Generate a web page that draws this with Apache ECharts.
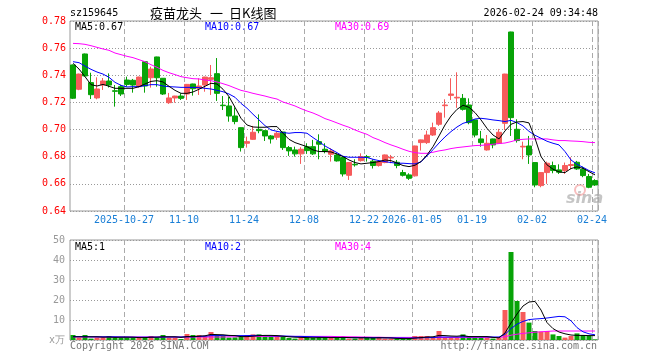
<!DOCTYPE html>
<html><head><meta charset="utf-8">
<script src="https://cdn.jsdelivr.net/npm/echarts@6/dist/echarts.min.js"></script>
<style>html,body{margin:0;padding:0;background:#fff}#c{width:660px;height:360px}</style>
</head><body><div id="c"></div>
<script>
const dates = [
'2025-10-14','2025-10-15','2025-10-16','2025-10-17','2025-10-20','2025-10-21','2025-10-22','2025-10-23','2025-10-24','2025-10-27',
'2025-10-28','2025-10-29','2025-10-30','2025-10-31','2025-11-03','2025-11-04','2025-11-05','2025-11-06','2025-11-07','2025-11-10',
'2025-11-11','2025-11-12','2025-11-13','2025-11-14','2025-11-17','2025-11-18','2025-11-19','2025-11-20','2025-11-21','2025-11-24',
'2025-11-25','2025-11-26','2025-11-27','2025-11-28','2025-12-01','2025-12-02','2025-12-03','2025-12-04','2025-12-05','2025-12-08',
'2025-12-09','2025-12-10','2025-12-11','2025-12-12','2025-12-15','2025-12-16','2025-12-17','2025-12-18','2025-12-19','2025-12-22',
'2025-12-23','2025-12-24','2025-12-25','2025-12-26','2025-12-29','2025-12-30','2025-12-31','2026-01-05','2026-01-06','2026-01-07',
'2026-01-08','2026-01-09','2026-01-12','2026-01-13','2026-01-14','2026-01-15','2026-01-16','2026-01-19','2026-01-20','2026-01-21',
'2026-01-22','2026-01-23','2026-01-26','2026-01-27','2026-01-28','2026-01-29','2026-01-30','2026-02-02','2026-02-03','2026-02-04',
'2026-02-05','2026-02-06','2026-02-09','2026-02-10','2026-02-11','2026-02-12','2026-02-13','2026-02-24'];

const opens = [
.7476,.7297,.7557,.7346,.7233,.7328,.7358,.7286,.7316,.7365,
.7363,.7316,.7500,.7382,.7535,.7378,.7198,.7233,.7247,.7262,
.7336,.7304,.7328,.7370,.7412,.7180,.7174,.7100,.7014,.6899,
.6928,.7002,.6992,.6953,.6943,.6982,.6867,.6850,.6821,.6874,
.6874,.6911,.6855,.6818,.6813,.6794,.6663,.6744,.6771,.6800,
.6767,.6735,.6757,.6791,.6759,.6683,.6666,.6659,.6904,.6904,
.6960,.7039,.7176,.7252,.7233,.7230,.7181,.7071,.6931,.6850,
.6931,.6899,.7046,.7719,.7002,.6872,.6879,.6757,.6587,.6683,
.6735,.6703,.6698,.6735,.6759,.6708,.6654,.6624];
const closes = [
.7231,.7409,.7395,.7257,.7299,.7358,.7328,.7282,.7262,.7333,
.7328,.7387,.7321,.7446,.7382,.7262,.7233,.7247,.7230,.7333,
.7301,.7321,.7387,.7382,.7267,.7176,.7100,.7059,.6867,.6911,
.6980,.6992,.6953,.6931,.6973,.6867,.6843,.6821,.6855,.6845,
.6821,.6892,.6838,.6843,.6769,.6673,.6757,.6740,.6801,.6796,
.6735,.6764,.6813,.6796,.6735,.6663,.6641,.6879,.6924,.6960,
.7014,.7122,.7181,.7262,.7238,.7149,.7051,.6960,.6904,.6899,
.6887,.6980,.7409,.7088,.6919,.6877,.6813,.6592,.6683,.6752,
.6698,.6686,.6735,.6742,.6710,.6661,.6575,.6592];
const lows = [
.7225,.7290,.7390,.7225,.7223,.7292,.7310,.7169,.7247,.7316,
.7272,.7309,.7272,.7309,.7316,.7255,.7189,.7198,.7218,.7218,
.7250,.7255,.7279,.7255,.7211,.7144,.7058,.7039,.6838,.6867,
.6924,.6973,.6916,.6897,.6924,.6850,.6806,.6801,.6747,.6821,
.6813,.6781,.6825,.6764,.6764,.6654,.6629,.6727,.6764,.6764,
.6713,.6727,.6752,.6752,.6715,.6654,.6629,.6654,.6845,.6894,
.6953,.7027,.7088,.7218,.7160,.7140,.7039,.6943,.6874,.6845,
.6862,.6894,.6997,.6953,.6904,.6781,.6747,.6575,.6575,.6600,
.6678,.6673,.6673,.6708,.6703,.6649,.6568,.6585];
const highs = [
.7480,.7412,.7560,.7419,.7385,.7380,.7414,.7328,.7330,.7390,
.7373,.7390,.7502,.7463,.7537,.7380,.7270,.7249,.7267,.7336,
.7338,.7378,.7389,.7476,.7527,.7247,.7243,.7164,.7016,.6948,
.7027,.7112,.6994,.6960,.6985,.6984,.6879,.6874,.6870,.6899,
.6924,.6965,.6899,.6862,.6825,.6796,.6759,.6781,.6825,.6813,
.6781,.6766,.6816,.6813,.6776,.6703,.6678,.6881,.6926,.6992,
.7051,.7137,.7223,.7378,.7422,.7262,.7230,.7073,.6990,.6960,
.6933,.7005,.7411,.7721,.7076,.6911,.6953,.6759,.6685,.6764,
.6764,.6744,.6757,.6796,.6769,.6727,.6673,.6634];
const volumes = [
2.5,1.2,2.5,0.7,1.2,1.2,2.0,1.2,1.2,1.2,
1.2,1.2,1.2,2.0,1.2,2.5,1.2,1.2,0.5,3.0,
2.5,2.5,2.0,4.0,2.5,2.0,1.2,1.3,1.7,2.5,
2.8,2.8,1.7,1.7,2.0,1.5,1.0,0.7,1.3,1.3,
1.2,1.2,1.2,1.2,1.2,1.5,0.7,0.7,1.2,1.2,
1.2,1.2,0.7,0.7,0.7,0.7,0.7,2.0,2.0,2.0,
1.2,4.5,1.2,1.2,1.2,2.8,2.0,1.2,1.2,1.2,
0.7,1.2,15.0,44.0,19.5,14.0,8.7,4.5,4.2,4.5,
2.8,2.0,1.2,2.0,3.3,2.5,2.0,0.3];
const ma5 = [
.7488,.7446,.7390,.7331,.7321,.7333,.7319,.7304,.7304,.7304,
.7304,.7316,.7336,.7355,.7360,.7351,.7319,.7289,.7267,.7267,
.7277,.7297,.7319,.7341,.7336,.7297,.7243,.7164,.7083,.7034,
.7019,.7017,.7017,.7022,.7022,.6973,.6928,.6904,.6889,.6874,
.6850,.6838,.6838,.6835,.6820,.6801,.6776,.6757,.6747,.6752,
.6757,.6764,.6776,.6771,.6754,.6735,.6727,.6737,.6764,.6813,
.6874,.6953,.7034,.7100,.7149,.7179,.7164,.7125,.7071,.7009,
.6960,.6931,.6990,.7039,.7056,.7059,.7049,.6936,.6801,.6740,
.6708,.6688,.6683,.6713,.6725,.6715,.6690,.6666];
const ma10 = [
.7500,.7493,.7468,.7444,.7424,.7409,.7385,.7348,.7326,.7314,
.7316,.7316,.7324,.7331,.7331,.7321,.7316,.7314,.7311,.7311,
.7311,.7309,.7304,.7299,.7289,.7279,.7262,.7238,.7193,.7157,
.7113,.7071,.7029,.6997,.6987,.6978,.6973,.6978,.6978,.6973,
.6941,.6911,.6879,.6855,.6830,.6803,.6796,.6796,.6796,.6794,
.6781,.6771,.6764,.6757,.6752,.6752,.6749,.6747,.6762,.6806,
.6852,.6901,.6946,.6985,.7019,.7046,.7059,.7078,.7083,.7078,
.7071,.7066,.7059,.7068,.7051,.7027,.6987,.6958,.6936,.6914,
.6899,.6887,.6838,.6776,.6744,.6722,.6698,.6681];
const ma30 = [
.7635,.7633,.7628,.7618,.7606,.7594,.7584,.7564,.7552,.7540,
.7530,.7515,.7500,.7478,.7459,.7436,.7419,.7405,.7390,.7382,
.7375,.7373,.7365,.7360,.7351,.7338,.7324,.7306,.7289,.7279,
.7267,.7257,.7247,.7235,.7225,.7203,.7189,.7174,.7154,.7137,
.7122,.7103,.7081,.7066,.7049,.7032,.7017,.6997,.6980,.6965,
.6941,.6924,.6904,.6887,.6872,.6855,.6840,.6830,.6825,.6825,
.6833,.6843,.6850,.6860,.6867,.6872,.6877,.6882,.6884,.6887,
.6892,.6897,.6901,.6911,.6924,.6928,.6931,.6931,.6931,.6931,
.6924,.6919,.6919,.6916,.6914,.6911,.6906,.6904];
const volMa5 = [
1.6,1.6,1.6,1.6,1.6,1.4,1.5,1.3,1.4,1.4,
1.4,1.2,1.2,1.4,1.4,1.6,1.6,1.6,1.3,1.7,
1.7,1.9,2.1,2.8,2.7,2.6,2.3,2.2,1.7,1.7,
1.9,2.2,2.3,2.3,2.2,1.9,1.6,1.4,1.3,1.2,
1.1,1.2,1.2,1.2,1.2,1.3,1.2,1.1,1.1,1.1,
1.0,1.1,1.1,1.0,0.8,0.7,0.7,1.0,1.2,1.5,
1.6,2.3,2.2,2.0,1.9,2.2,1.7,1.7,1.7,1.7,
1.3,1.1,3.5,8.5,13,17,19,19.3,15,8.7,
5.7,4.0,3.1,2.5,2.3,2.3,2.2,2.2];
const volMa10 = [
1.7,1.7,1.7,1.6,1.6,1.6,1.6,1.6,1.5,1.5,
1.4,1.4,1.4,1.4,1.4,1.5,1.5,1.5,1.5,1.6,
1.6,1.8,1.9,2.2,2.2,2.3,2.2,2.2,2.2,2.2,
2.3,2.3,2.2,2.1,2.0,2.0,1.9,1.8,1.8,1.7,
1.6,1.5,1.4,1.3,1.3,1.2,1.2,1.2,1.2,1.2,
1.2,1.2,1.1,1.1,1.0,1.0,0.9,1.0,1.1,1.2,
1.2,1.5,1.5,1.5,1.5,1.6,1.6,1.6,1.6,1.6,
1.5,1.5,2.8,5.7,7.9,9.3,10.2,10.5,10.7,11,
11.4,11.8,11.6,9.6,6.2,4.1,3.1,2.6];
const volMa30 = [
1.5,1.5,1.5,1.5,1.5,1.5,1.5,1.5,1.5,1.5,
1.5,1.5,1.5,1.5,1.5,1.5,1.5,1.5,1.5,1.5,
1.5,1.5,1.5,1.5,1.5,1.5,1.6,1.6,1.7,1.7,
1.8,1.8,1.8,1.8,1.8,1.8,1.8,1.8,1.8,1.8,
1.8,1.8,1.8,1.8,1.7,1.7,1.6,1.6,1.5,1.5,
1.4,1.4,1.3,1.3,1.3,1.3,1.3,1.3,1.3,1.3,
1.3,1.3,1.3,1.3,1.3,1.3,1.3,1.3,1.3,1.3,
1.3,1.3,1.6,2.4,2.9,3.3,3.6,3.9,4.1,4.3,
4.5,4.5,4.5,4.5,4.5,4.5,4.5,4.5];
const tickIdx = [9,19,29,39,49,57,67,77,87];
const tickText = ['2025-10-27','11-10','11-24','12-08','12-22','2026-01-05','01-19','02-02','02-24'];
const priceMin = 0.64, priceMax = 0.78, priceStep = 0.02;
const volMin = 0, volMax = 50, volStep = 10;

const RED = '#f65b5b', GREEN = '#07a307';
const MONO = '"DejaVu Sans Mono", monospace';
const CJK = '"Noto Sans CJK SC", sans-serif';
const candles = dates.map((d, i) => [opens[i], closes[i], lows[i], highs[i]]);
const volBars = volumes.map((v, i) => ({value: v, itemStyle: {color: closes[i] > opens[i] ? RED : GREEN}}));
const isTick = (i) => tickIdx.indexOf(i) >= 0;

const xSplit = {show: true, interval: isTick, lineStyle: {color: '#aaa', type: [5, 3], width: 1}};
const ySplit = {show: true, lineStyle: {color: '#999', type: [1, 2], width: 1}};

function txt(x, y, text, fill, font, align) {
  return {type: 'text', x: x, y: y, style: {text: text, fill: fill, font: font, align: align || 'left', verticalAlign: 'middle'}};
}

const chart = echarts.init(document.getElementById('c'), null, {renderer: 'canvas'});
chart.setOption({
  animation: false,
  backgroundColor: '#fff',
  grid: [
    {left: 70, top: 21, width: 528, height: 190, show: true, borderColor: '#999', borderWidth: 1, backgroundColor: 'transparent'},
    {left: 70, top: 240, width: 528, height: 100, show: true, borderColor: '#999', borderWidth: 1, backgroundColor: 'transparent'}
  ],
  xAxis: [
    {type: 'category', gridIndex: 0, data: dates, boundaryGap: true,
     axisLine: {show: false}, axisTick: {show: false},
     axisLabel: {interval: isTick, formatter: (v, i) => tickText[tickIdx.indexOf(i)] || '',
       color: '#1a7fd6', fontFamily: MONO, fontSize: 10, margin: 4, padding: [0, 6, 0, 0], hideOverlap: false},
     splitLine: xSplit},
    {type: 'category', gridIndex: 1, data: dates, boundaryGap: true,
     axisLine: {show: false}, axisTick: {show: false}, axisLabel: {show: false},
     splitLine: xSplit}
  ],
  yAxis: [
    {type: 'value', gridIndex: 0, min: priceMin, max: priceMax, interval: priceStep,
     axisLine: {show: false}, axisTick: {show: false},
     axisLabel: {formatter: v => v.toFixed(2), color: '#f00', fontFamily: MONO, fontSize: 10, margin: 4},
     splitLine: ySplit},
    {type: 'value', gridIndex: 1, min: volMin, max: volMax, interval: volStep,
     axisLine: {show: false}, axisTick: {show: false},
     axisLabel: {formatter: v => v === 0 ? 'x万' : String(v), color: '#999', fontFamily: MONO, fontSize: 10, margin: 5},
     splitLine: ySplit}
  ],
  series: [
    {type: 'candlestick', xAxisIndex: 0, yAxisIndex: 0, data: candles, barWidth: 5,
     itemStyle: {color: RED, color0: GREEN, borderColor: RED, borderColor0: GREEN, borderWidth: 1}},
    {type: 'line', xAxisIndex: 0, yAxisIndex: 0, data: ma30, showSymbol: false, lineStyle: {color: '#f0f', width: 1}},
    {type: 'line', xAxisIndex: 0, yAxisIndex: 0, data: ma10, showSymbol: false, lineStyle: {color: '#00f', width: 1}},
    {type: 'line', xAxisIndex: 0, yAxisIndex: 0, data: ma5, showSymbol: false, lineStyle: {color: '#000', width: 1}},
    {type: 'bar', xAxisIndex: 1, yAxisIndex: 1, data: volBars, barWidth: 5},
    {type: 'line', xAxisIndex: 1, yAxisIndex: 1, data: volMa30, showSymbol: false, lineStyle: {color: '#f0f', width: 1}},
    {type: 'line', xAxisIndex: 1, yAxisIndex: 1, data: volMa10, showSymbol: false, lineStyle: {color: '#00f', width: 1}},
    {type: 'line', xAxisIndex: 1, yAxisIndex: 1, data: volMa5, showSymbol: false, lineStyle: {color: '#000', width: 1}}
  ],
  graphic: [
    txt(70, 13, 'sz159645', '#000', '10px ' + MONO),
    txt(150, 13, '疫苗龙头', '#000', '13px ' + CJK),
    txt(210, 13, '一', '#000', '13px ' + CJK),
    txt(229, 13, '日K线图', '#000', '13px ' + CJK),
    txt(598, 13, '2026-02-24 09:34:48', '#000', '10px ' + MONO, 'right'),
    txt(75, 27, 'MA5:0.67', '#000', '10px ' + MONO),
    txt(205, 27, 'MA10:0.67', '#00f', '10px ' + MONO),
    txt(335, 27, 'MA30:0.69', '#f0f', '10px ' + MONO),
    txt(75, 247, 'MA5:1', '#000', '10px ' + MONO),
    txt(205, 247, 'MA10:2', '#00f', '10px ' + MONO),
    txt(335, 247, 'MA30:4', '#f0f', '10px ' + MONO),
    txt(70, 346, 'Copyright 2026 SINA.COM', '#777', '10px ' + MONO),
    txt(597, 346, 'http://finance.sina.com.cn', '#777', '10px ' + MONO, 'right'),
    {type: 'circle', shape: {cx: 580, cy: 190, r: 5}, style: {fill: 'none', stroke: 'rgba(240,110,110,0.45)', lineWidth: 2}},
    txt(566, 199, 'sina', 'rgba(150,150,150,0.55)', 'italic bold 16px "DejaVu Sans"')
  ]
});
</script></body></html>
